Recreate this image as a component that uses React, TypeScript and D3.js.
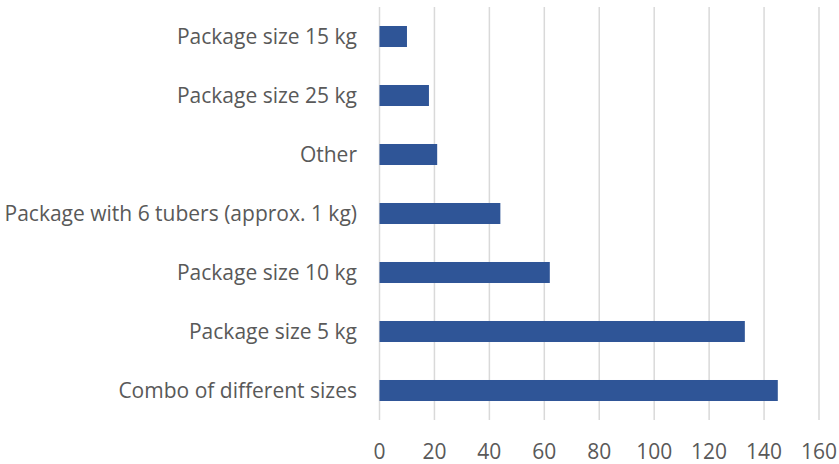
import React from "react";
import * as d3 from "d3";

const categories = [
  "Package size 15 kg",
  "Package size 25 kg",
  "Other",
  "Package with 6 tubers (approx. 1 kg)",
  "Package size 10 kg",
  "Package size 5 kg",
  "Combo of different sizes",
];
const values = [10, 18, 21, 44, 62, 133, 145];
const xTicks = [0, 20, 40, 60, 80, 100, 120, 140, 160];

export default function App() {
  const width = 839;
  const height = 464;
  const x = d3.scaleLinear().domain([0, 160]).range([379.5, 819]);
  const y = d3
    .scaleBand<string>()
    .domain(categories)
    .range([7, 420])
    .paddingInner(0.644)
    .paddingOuter(0.322);
  const font = "'Open Sans', sans-serif";
  return (
    <svg
      width={width}
      height={height}
      style={{ position: "absolute", left: 0, top: 0, background: "#fff" }}
    >
      {xTicks.map((t) => (
        <line
          key={"g" + t}
          x1={x(t)}
          x2={x(t)}
          y1={7}
          y2={420}
          stroke="#d9d9d9"
          strokeWidth={1.5}
        />
      ))}
      {categories.map((c, i) => (
        <rect
          key={c}
          x={x(0)}
          y={y(c)}
          width={x(values[i]) - x(0)}
          height={y.bandwidth()}
          fill="#2F5597"
        />
      ))}
      {categories.map((c) => (
        <text
          key={"l" + c}
          x={357}
          y={(y(c) as number) + y.bandwidth() / 2}
          dy="0.35em"
          textAnchor="end"
          fontFamily={font}
          fontSize={21}
          textLength={undefined}
          fill="#595959"
        >
          {c}
        </text>
      ))}
      {xTicks.map((t) => (
        <text
          key={"t" + t}
          x={x(t)}
          y={459}
          textAnchor="middle"
          fontFamily={font}
          fontSize={21}
          fill="#595959"
        >
          {t}
        </text>
      ))}
    </svg>
  );
}
